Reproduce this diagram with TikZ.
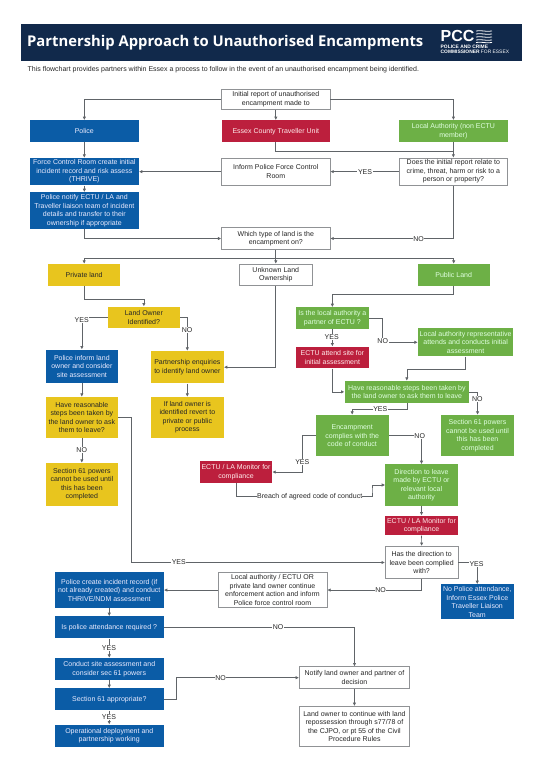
\documentclass[tikz,border=0pt]{standalone}
\usepackage{fontspec}
\setmainfont{Liberation Sans}
\newfontfamily\titlefont{Open Sans}
\usetikzlibrary{arrows.meta,calc}
\definecolor{navy}{HTML}{11294B}
\definecolor{pblue}{HTML}{0B5CA6}
\definecolor{pred}{HTML}{BC1F3D}
\definecolor{pgreen}{HTML}{6DB046}
\definecolor{pyellow}{HTML}{E8C51E}
\definecolor{ln}{HTML}{606468}
\tikzset{
 rect/.style n args={4}{inner sep=0pt,align=center,font=\fontsize{7}{8.5}\selectfont,
   minimum width={(#3)-(#1)},minimum height={(#4)-(#2)},
   at={({((#1)+(#3))/2},{((#2)+(#4))/2})}},
 wbox/.style={draw=ln!70,line width=.6pt,fill=white,text=black!85},
 bbox/.style={fill=pblue,text=blue!8!white},
 rbox/.style={fill=pred,text=red!8!white},
 gbox/.style={fill=pgreen,text=green!12!white},
 ybox/.style={fill=pyellow,text=black!85},
 arr/.style={draw=ln,line width=.7pt,-{Latex[length=3.4pt,width=3.4pt]}},
 plain/.style={draw=ln,line width=.7pt},
 lab/.style={fill=white,inner sep=.6pt,font=\fontsize{7}{8}\selectfont,text=black!85},
}
\begin{document}
\begin{tikzpicture}[x=1pt,y=-1pt]
\useasboundingbox (0,0) rectangle (537,770);
% header
\node[rect={20.5}{24.3}{522}{60.7},fill=navy] (header) {};
\node[anchor=west,inner sep=0pt,text=white] (title) at (27,43) {\titlefont\bfseries\fontsize{14.8}{18}\selectfont Partnership Approach to Unauthorised Encampments};
\node[anchor=west,inner sep=0pt,text=white] (pcc) at (440.5,36) {\bfseries\fontsize{16}{16}\selectfont PCC};
\foreach \yy in {31,34,37,40,42.5}{\draw[white,line width=.8pt] (476,\yy) .. controls (481,{\yy-1.2}) and (486,{\yy+1.2}) .. (492,\yy);}
\node[anchor=west,inner sep=0pt,text=white] (pcc2) at (440.5,46.5) {\bfseries\fontsize{4.9}{5}\selectfont POLICE AND CRIME};
\node[anchor=west,inner sep=0pt,text=white] (pcc3) at (440.5,51.8) {\fontsize{4.9}{5}\selectfont\textbf{COMMISSIONER} FOR ESSEX};
\node[anchor=west,inner sep=0pt,text=black!85] (sub) at (27.4,69.5) {\fontsize{7}{8}\selectfont This flowchart provides partners within Essex a process to follow in the event of an unauthorised encampment being identified.};
% top rows
\node[rect={221.6}{89.3}{330}{109.3},wbox] (initial) {Initial report of unauthorised\\encampment made to};
\node[rect={30}{120.3}{138.7}{142.3},bbox] (police) {Police};
\node[rect={221.6}{120.3}{330}{142.3},rbox] (essex) {Essex County Traveller Unit};
\node[rect={399.3}{120.3}{507.5}{142.3},gbox] (la) {Local Authority (non ECTU\\member)};
\node[rect={30}{158}{138.7}{185.3},bbox] (force) {Force Control Room create initial\\incident record and risk assess\\(THRIVE)};
\node[rect={221.6}{158}{330}{185.3},wbox] (inform) {Inform Police Force Control\\Room};
\node[rect={399.3}{158}{507.5}{185.3},wbox] (does) {Does the initial report relate to\\crime, threat, harm or risk to a\\person or property?};
\node[rect={30}{192.3}{138.7}{228.7},bbox] (notifyp) {Police notify ECTU / LA and\\Traveller liaison team of incident\\details and transfer to their\\ownership if appropriate};
\node[rect={221.6}{227.7}{330}{249.3},wbox] (which) {Which type of land is the\\encampment on?};
% land row
\node[rect={48}{264}{120.3}{285.7},ybox] (private) {Private land};
\node[rect={239.3}{264}{312.3}{285.7},wbox] (unknown) {Unknown Land\\Ownership};
\node[rect={417.7}{264}{489.7}{285.7},gbox] (public) {Public Land};
% private column
\node[rect={107.7}{306.7}{180}{328.3},ybox] (owner) {Land Owner\\Identified?};
\node[rect={45.7}{349.7}{118}{382.7},bbox] (pinform) {Police inform land\\owner and consider\\site assessment};
\node[rect={151}{351}{223.7}{383.3},ybox] (partner) {Partnership enquiries\\to identify land owner};
\node[rect={45.7}{397}{118}{437.5},ybox] (havep) {Have reasonable\\steps been taken by\\the land owner to ask\\them to leave?};
\node[rect={151}{397}{223.7}{437.7},ybox] (revert) {If land owner is\\identified revert to\\private or public\\process};
\node[rect={45.7}{463}{118}{505.7},ybox] (secp) {Section 61 powers\\cannot be used until\\this has been\\completed};
% public column
\node[rect={295.7}{307.3}{369}{329},gbox] (ispartner) {Is the local authority a\\partner of ECTU ?};
\node[rect={295.7}{346.7}{369}{368.3},rbox] (attend) {ECTU attend site for\\initial assessment};
\node[rect={418}{328.3}{513.3}{356.3},gbox] (localrep) {Local authority representative\\attends and conducts initial\\assessment};
\node[rect={344.7}{381}{469}{402.7},gbox] (havepub) {Have reasonable steps been taken by\\the land owner to ask them to leave};
\node[rect={315.7}{415}{388.7}{456.3},gbox] (enc) {Encampment\\complies with the\\code of conduct};
\node[rect={441.3}{415}{513.7}{456.3},gbox] (secg) {Section 61 powers\\cannot be used until\\this has been\\completed};
\node[rect={200}{461}{272}{483},rbox] (mon1) {ECTU / LA Monitor for\\compliance};
\node[rect={385.3}{464.3}{457.7}{505.7},gbox] (direction) {Direction to leave\\made by ECTU or\\relevant local\\authority};
\node[rect={385.3}{515.7}{457.7}{535.3},rbox] (mon2) {ECTU / LA Monitor for\\compliance};
\node[rect={385.3}{546.3}{458}{578.7},wbox] (has) {Has the direction to\\leave been complied\\with?};
\node[rect={440.8}{584.3}{513.7}{619.3},bbox] (nopolice) {No Police attendance,\\Inform Essex Police\\Traveller Liaison\\Team};
\node[rect={218}{572.4}{327}{607.7},wbox] (localauth) {Local authority / ECTU OR\\private land owner continue\\enforcement action and inform\\Police force control room};
\node[rect={54.8}{572.4}{163.7}{607.7},bbox] (pcreate) {Police create incident record (if\\not already created) and conduct\\THRIVE/NDM assessment};
\node[rect={54.8}{616.3}{163.7}{638.3},bbox] (isatt) {Is police attendance required ?};
\node[rect={54.8}{658}{163.7}{680},bbox] (conduct) {Conduct site assessment and\\consider sec 61 powers};
\node[rect={54.8}{688.3}{163.7}{710.3},bbox] (sec61) {Section 61 appropriate?};
\node[rect={54.8}{724.7}{163.7}{746.7},bbox] (oper) {Operational deployment and\\partnership working};
\node[rect={299.3}{666.7}{409.6}{688.7},wbox] (notify) {Notify land owner and partner of\\decision};
\node[rect={299.3}{706.3}{409.6}{746.7},wbox] (repo) {Land owner to continue with land\\repossession through s77/78 of\\the CJPO, or pt 55 of the Civil\\Procedure Rules};
% junctions
\coordinate (jess) at (453.4,151.7);
\coordinate (jwhich) at (275.8,258);
\coordinate (jhave) at (131.3,490);
\coordinate (jis) at (382.7,330);
\coordinate (jenc) at (302.3,450);
\coordinate (jbr) at (372,490);
\coordinate (jsec) at (176.4,690);
% connectors
\draw[arr] (initial.west) -| (police.north);
\draw[arr] (initial.east) -| (la.north);
\draw[arr] (initial) -- (essex.north);
\draw[arr] (police) -- (force.north);
\draw[arr] (la) -- (does.north);
\draw[plain] (essex.south) |- (jess);
\draw[arr] (does.west) -- (inform.east);
\draw[arr] (inform.west) -- (force.east);
\draw[arr] (force) -- (notifyp.north);
\draw[arr] (notifyp.south) |- (which.west);
\draw[arr] (does.south) |- (which.east);
\draw[plain] (which.south) -- (jwhich);
\draw[arr] (jwhich) -| (private.north);
\draw[arr] (jwhich) -| (public.north);
\draw[arr] (jwhich) -- (unknown.north);
\draw[arr] (private.south) -- ++(0,13.3) -| (owner.north);
\draw[arr] (owner.west) -| (pinform.north);
\draw[arr] (owner.east) -| (partner.north);
\draw[arr] (unknown.south) |- (partner.east);
\draw[arr] (partner) -- (revert.north);
\draw[arr] (pinform) -- (havep.north);
\draw[arr] (havep) -- (secp.north);
\draw[arr] (havep.east) -| (jhave) |- (has.west);
\draw[arr] (public.south) -- ++(0,8.3) -| (ispartner.north);
\draw[arr] (ispartner) -- (attend.north);
\draw[arr] (ispartner.east) -| (jis) |- (localrep.west);
\draw[arr] (localrep.south) -- ++(0,13) -| (havepub.north);
\draw[arr] (attend.south) |- (havepub.west);
\draw[arr] (havepub.east) -| (secg.north);
\draw[arr] (havepub.south) -- ++(0,6.6) -| (enc.north);
\draw[arr] (enc.west) -| (jenc) |- (mon1.east);
\draw[arr] (enc.east) -| (direction.north);
\draw[arr] (direction) -- (mon2.north);
\draw[arr] (mon2) -- (has.north);
\draw[arr] (has.east) -| (nopolice.north);
\draw[arr] (has.south) |- (localauth.east);
\draw[arr] (localauth.west) -- (pcreate.east);
\draw[arr] (pcreate) -- (isatt.north);
\draw[arr] (isatt) -- (conduct.north);
\draw[arr] (conduct) -- (sec61.north);
\draw[arr] (sec61) -- (oper.north);
\draw[arr] (isatt.east) -| (notify.north);
\draw[arr] (sec61.east) -| (jsec) |- (notify.west);
\draw[arr] (notify) -- (repo.north);
\node[inner sep=0pt,font=\fontsize{7}{8}\selectfont,text=black!85] (breach) at (309.7,496.3) {Breach of agreed code of conduct};
\draw[plain] (mon1.south) |- (breach.west);
\draw[arr] (breach.east) -| (jbr) |- (direction.west);
% labels
\node[lab] (l1) at (365,172) {YES};
\node[lab] (l2) at (418.5,238.7) {NO};
\node[lab] (l3) at (81.7,320.3) {YES};
\node[lab] (l4) at (187,330.3) {NO};
\node[lab] (l5) at (81.7,450) {NO};
\node[lab] (l6) at (178.8,562.3) {YES};
\node[lab] (l7) at (331.7,337.3) {YES};
\node[lab] (l8) at (382.7,341) {NO};
\node[lab] (l9) at (477.3,398.7) {NO};
\node[lab] (l10) at (380.3,409.3) {YES};
\node[lab] (l11) at (302.3,461.7) {YES};
\node[lab] (l12) at (419.7,435.7) {NO};
\node[lab] (l13) at (476.5,563.7) {YES};
\node[lab] (l14) at (380.5,590) {NO};
\node[lab] (l15) at (278,627.3) {NO};
\node[lab] (l16) at (109,647.7) {YES};
\node[lab] (l17) at (220.5,677.7) {NO};
\node[lab] (l18) at (109,717) {YES};
\end{tikzpicture}
\end{document}
